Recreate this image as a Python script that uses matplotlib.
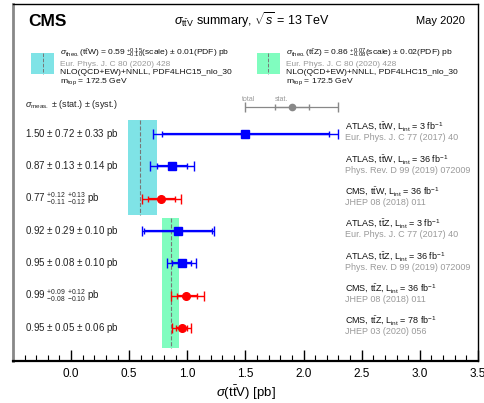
import numpy as np
import matplotlib
matplotlib.use("Agg")
import matplotlib.pyplot as plt

plt.rcParams['font.family'] = ['Liberation Sans', 'DejaVu Sans']
plt.rcParams['mathtext.fontset'] = 'custom'
plt.rcParams['mathtext.rm'] = 'Liberation Sans'
plt.rcParams['mathtext.it'] = 'Liberation Sans:italic'
plt.rcParams['mathtext.bf'] = 'Liberation Sans:bold'

# measurements
experiments = ["ATLAS", "ATLAS", "CMS", "ATLAS", "ATLAS", "CMS", "CMS"]
channels = ["W", "W", "W", "Z", "Z", "Z", "Z"]
lumis = [3, 36, 36, 3, 36, 36, 78]
journals = ["Eur. Phys. J. C 77 (2017) 40", "Phys. Rev. D 99 (2019) 072009",
            "JHEP 08 (2018) 011", "Eur. Phys. J. C 77 (2017) 40",
            "Phys. Rev. D 99 (2019) 072009", "JHEP 08 (2018) 011",
            "JHEP 03 (2020) 056"]
central = [1.50, 0.87, 0.77, 0.92, 0.95, 0.99, 0.95]
stat_up = [0.72, 0.13, 0.12, 0.29, 0.08, 0.09, 0.05]
stat_dn = [0.72, 0.13, 0.11, 0.29, 0.08, 0.08, 0.05]
syst_up = [0.33, 0.14, 0.13, 0.10, 0.10, 0.12, 0.06]
syst_dn = [0.33, 0.14, 0.12, 0.10, 0.10, 0.10, 0.06]
value_labels = [r"1.50 $\pm$ 0.72 $\pm$ 0.33 pb",
                r"0.87 $\pm$ 0.13 $\pm$ 0.14 pb",
                r"0.77 $^{+0.12}_{-0.11}$ $^{+0.13}_{-0.12}$ pb",
                r"0.92 $\pm$ 0.29 $\pm$ 0.10 pb",
                r"0.95 $\pm$ 0.08 $\pm$ 0.10 pb",
                r"0.99 $^{+0.09}_{-0.08}$ $^{+0.12}_{-0.10}$ pb",
                r"0.95 $\pm$ 0.05 $\pm$ 0.06 pb"]

# theory predictions
theo_ttw = 0.59
theo_ttw_up, theo_ttw_dn = 0.15, 0.10
theo_ttz = 0.86
theo_ttz_up, theo_ttz_dn = 0.07, 0.08

cyan = '#7fe3e6'
green = '#80fdbf'
gray = '#9a9a9a'

fig = plt.figure(figsize=(4.85, 4.03), dpi=100)
ax = fig.add_axes([13/485, 42/403, 465/485, 357/403])
ax.set_xlim(-0.5, 3.5)
ax.set_ylim(7.02, -4.02)

rows = np.arange(len(central))
c = np.array(central)
tot_up = np.sqrt(np.array(stat_up)**2 + np.array(syst_up)**2)
tot_dn = np.sqrt(np.array(stat_dn)**2 + np.array(syst_dn)**2)

# theory bands
ax.fill_betweenx([-0.43, 2.5], theo_ttw - theo_ttw_dn, theo_ttw + theo_ttw_up,
                 color=cyan, lw=0, zorder=1)
ax.plot([theo_ttw, theo_ttw], [-0.43, 2.5], ls='--', color='#777777', lw=0.8, zorder=2)
ax.fill_betweenx([2.6, 6.62], theo_ttz - theo_ttz_dn, theo_ttz + theo_ttz_up,
                 color=green, lw=0, zorder=1)
ax.plot([theo_ttz, theo_ttz], [2.6, 6.62], ls='--', color='#777777', lw=0.8, zorder=2)

for i in rows:
    col = 'blue' if experiments[i] == "ATLAS" else 'red'
    mk = 's' if experiments[i] == "ATLAS" else 'o'
    ax.errorbar(c[i], i, xerr=[[tot_dn[i]], [tot_up[i]]], fmt='none', ecolor=col,
                elinewidth=1.0, capsize=3.5, capthick=1.0, zorder=3)
    ax.errorbar(c[i], i, xerr=[[stat_dn[i]], [stat_up[i]]], fmt='none', ecolor=col,
                elinewidth=1.6, capsize=2.0, capthick=1.0, zorder=3)
    ax.plot(c[i], i, marker=mk, color=col, ms=5.5, ls='none', zorder=4)
    ax.text(-0.395, i, value_labels[i], fontsize=7, va='center', ha='left', color='#222222')
    name = r"%s, $\mathrm{t\bar{t}%s}$, L$_{\rm int}$ = %d fb$^{-1}$" % (experiments[i], channels[i], lumis[i])
    ax.text(2.36, i - 0.22, name, fontsize=6.5, va='center', ha='left', color='#111111')
    ax.text(2.36, i + 0.12, journals[i], fontsize=6.5, va='center', ha='left', color=gray)

# legend for error bars
leg_c, leg_stat, leg_tot = 1.90, 0.15, 0.40
ax.errorbar(leg_c, -0.835, xerr=leg_tot, fmt='none', ecolor='#888888', elinewidth=0.9,
            capsize=3.5, zorder=3)
ax.errorbar(leg_c, -0.835, xerr=leg_stat, fmt='none', ecolor='#888888', elinewidth=0.9,
            capsize=2.0, zorder=3)
ax.plot(leg_c, -0.835, 'o', color='#888888', ms=4.5)
ax.text(1.47, -1.08, "total", fontsize=5, color=gray, va='center', ha='left')
ax.text(1.75, -1.08, "stat.", fontsize=5, color=gray, va='center', ha='left')
ax.text(-0.395, -0.9, r"$\sigma_{\rm meas.}$ $\pm$ (stat.) $\pm$ (syst.)", fontsize=6.5,
        va='center', ha='left', color='#222222')

# theory legend
for bx, colr, txt, dash in [(-0.343, cyan,
                             r"$\sigma_{\rm theo.}$($\mathrm{t\bar{t}W}$) = 0.59 $^{+0.15}_{-0.10}$(scale) $\pm$ 0.01(PDF) pb", theo_ttw),
                            (1.597, green,
                             r"$\sigma_{\rm theo.}$($\mathrm{t\bar{t}Z}$) = 0.86 $^{+0.07}_{-0.08}$(scale) $\pm$ 0.02(PDF) pb", theo_ttz)]:
    ax.add_patch(plt.Rectangle((bx, -2.5), 0.197, 0.64, color=colr, lw=0, zorder=1))
    ax.plot([bx + 0.0985] * 2, [-2.5, -1.86], ls='--', color='#777777', lw=0.7)
    tx = bx + 0.25
    ax.text(tx, -2.48, txt, fontsize=6.1, va='center', ha='left', color='#111111')
    ax.text(tx, -2.15, "Eur. Phys. J. C 80 (2020) 428", fontsize=6.0, va='center', ha='left', color=gray)
    ax.text(tx, -1.89, "NLO(QCD+EW)+NNLL, PDF4LHC15_nlo_30", fontsize=6.1, va='center', ha='left', color='#111111')
    ax.text(tx, -1.63, r"m$_{\rm top}$ = 172.5 GeV", fontsize=6.1, va='center', ha='left', color='#111111')

# header
ax.text(-0.369, -3.47, "CMS", fontsize=12.5, fontweight='bold', va='center', ha='left')
ax.text(1.55, -3.53, r"$\sigma_{\mathrm{t\bar{t}V}}$ summary, $\sqrt{s}$ = 13 TeV", fontsize=9,
        va='center', ha='center')
ax.text(3.39, -3.5, "May 2020", fontsize=8, va='center', ha='right')

# axes styling
ax.set_yticks([])
ax.set_xticks(np.arange(0.0, 3.51, 0.5))
ax.set_xticks(np.arange(-0.5, 3.51, 0.1), minor=True)
ax.set_xticklabels(["%.1f" % v for v in np.arange(0.0, 3.51, 0.5)], fontsize=8.5)
ax.tick_params(axis='x', which='major', direction='in', length=8, width=1.0, pad=5)
ax.tick_params(axis='x', which='minor', direction='in', length=4, width=0.8)
ax.spines['bottom'].set_linewidth(1.6)
ax.spines['left'].set_linewidth(2.0)
ax.spines['left'].set_color('#888888')
ax.spines['top'].set_linewidth(1.0)
ax.spines['right'].set_linewidth(1.0)
ax.text(1.5, 8.0, r"$\sigma$($\mathrm{t\bar{t}V}$) [pb]", fontsize=9.5, ha='center', va='center')

fig.savefig("out.png", dpi=100)
